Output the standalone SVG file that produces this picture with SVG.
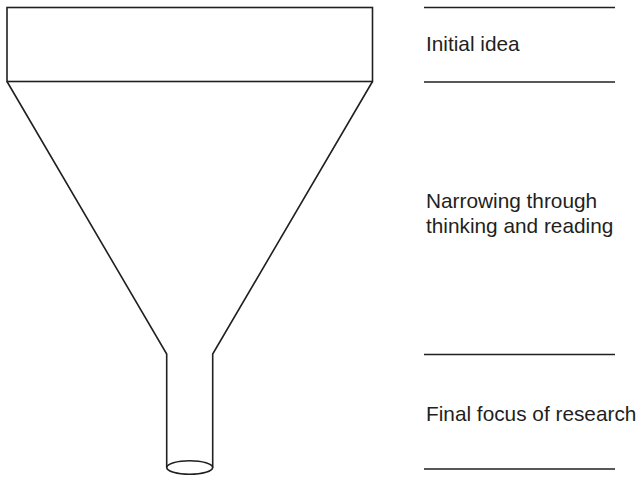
<svg xmlns="http://www.w3.org/2000/svg" width="643" height="478" viewBox="0 0 643 478">
<style>
.s{fill:none;stroke:#231f20;stroke-width:1.6}
.t{font-family:"Liberation Sans",Arial,sans-serif;font-size:20.8px;fill:#231f20}
</style>
<rect width="643" height="478" fill="#fff"/>
<g id="funnel">
<rect class="s" x="7" y="7.5" width="365.5" height="74"/>
<path class="s" d="M7,81.5 L166.7,354 L166.7,467.5 M372.5,81.5 L212.7,354 L212.7,467.5"/>
<ellipse class="s" cx="189.7" cy="467.5" rx="23" ry="6.8"/>
</g>
<g id="connectors">
<line class="s" x1="424" y1="7.5" x2="615" y2="7.5"/>
<line class="s" x1="424" y1="82" x2="615" y2="82"/>
<line class="s" x1="424" y1="354.5" x2="615" y2="354.5"/>
<line class="s" x1="424" y1="469" x2="615" y2="469"/>
</g>
<g id="label-initial"><text class="t" x="426" y="50.7">Initial idea</text></g>
<g id="label-narrowing"><text class="t" x="426" y="208.3">Narrowing through</text><text class="t" x="426" y="232.8">thinking and reading</text></g>
<g id="label-final"><text class="t" x="426" y="421">Final focus of research</text></g>
</svg>
